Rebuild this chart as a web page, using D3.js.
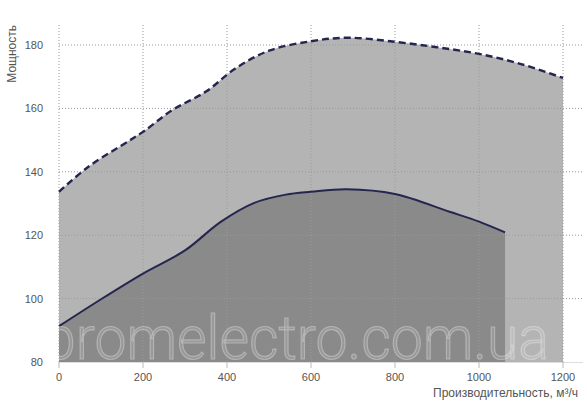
<!DOCTYPE html>
<html><head><meta charset="utf-8">
<script src="https://cdn.jsdelivr.net/npm/d3@7"></script>
<style>html,body{margin:0;padding:0;background:#fff;}svg{display:block;}</style>
</head><body>
<script>
const upperX = [0, 70, 150, 200, 270, 350, 420, 500, 600, 690, 800, 900, 1000, 1100, 1200];
const upperY = [133.7, 141.6, 148.4, 152.6, 159.5, 165.3, 172.6, 178.2, 181.2, 182.3, 181.0, 179.3, 177.2, 174.0, 169.6];
const lowerX = [0, 100, 200, 300, 385, 465, 540, 600, 685, 800, 930, 1000, 1062];
const lowerY = [91.3, 99.8, 107.9, 115.2, 124.2, 130.2, 132.8, 133.7, 134.5, 133.0, 127.4, 124.3, 120.9];
const xTicks = [0, 200, 400, 600, 800, 1000, 1200];
const yTicks = [80, 100, 120, 140, 160, 180];
const xTitle = "Производительность, м³/ч";
const yTitle = "Мощность";
const watermark = "promelectro.com.ua";

const W = 587, H = 405;
const svg = d3.select("body").append("svg").attr("width", W).attr("height", H);
const x = d3.scaleLinear().domain([0, 1250]).range([59, 584]);
const y = d3.scaleLinear().domain([80, 186]).range([362, 26]);

const up = upperX.map((v, i) => [v, upperY[i]]);
const lo = lowerX.map((v, i) => [v, lowerY[i]]);
const curve = d3.curveCatmullRom.alpha(0.5);

const area = d3.area().x(d => x(d[0])).y0(y(80)).y1(d => y(d[1])).curve(curve);
const line = d3.line().x(d => x(d[0])).y(d => y(d[1])).curve(curve);

svg.append("path").attr("d", area(up)).attr("fill", "#b4b4b4");
svg.append("path").attr("d", area(lo)).attr("fill", "#8a8a8a");

// grid
const g = svg.append("g");
g.selectAll(".hg").data(yTicks.filter(t => t > 80)).join("line")
  .attr("x1", x(0)).attr("x2", 583).attr("y1", d => y(d)).attr("y2", d => y(d))
  .attr("stroke", "#999").attr("stroke-dasharray", "1,2");
g.selectAll(".vg").data(xTicks).join("line")
  .attr("x1", d => x(d)).attr("x2", d => x(d)).attr("y1", 25).attr("y2", y(80))
  .attr("stroke", "#999").attr("stroke-dasharray", "1,2");

svg.append("path").attr("d", line(up)).attr("fill", "none")
  .attr("stroke", "#24264f").attr("stroke-width", 2.4).attr("stroke-dasharray", "7,4");
svg.append("path").attr("d", line(lo)).attr("fill", "none")
  .attr("stroke", "#24264f").attr("stroke-width", 2);

// bottom axis line
svg.append("line").attr("x1", x(0)).attr("x2", 583).attr("y1", y(80) + 0.5).attr("y2", y(80) + 0.5)
  .attr("stroke", "#ddd");

// watermark
svg.append("text").text(watermark)
  .attr("x", 44).attr("y", 359)
  .attr("textLength", 505).attr("lengthAdjust", "spacingAndGlyphs")
  .attr("font-family", "Roboto, 'Open Sans', sans-serif").attr("font-weight", 300)
  .attr("font-size", 62)
  .attr("fill", "rgba(255,255,255,0.13)")
  .attr("stroke", "rgba(255,255,255,0.3)").attr("stroke-width", 1.2);

// x ticks
const font = "'Liberation Sans', Arial, sans-serif";
svg.selectAll(".xt").data(xTicks).join("line")
  .attr("x1", d => x(d)).attr("x2", d => x(d)).attr("y1", y(80)).attr("y2", y(80) + 6)
  .attr("stroke", "#bbb");
svg.selectAll(".xl").data(xTicks).join("text")
  .attr("x", d => x(d)).attr("y", 381).attr("text-anchor", "middle")
  .attr("font-family", font).attr("font-size", 11).attr("fill", "#555").text(d => d);
svg.selectAll(".yl").data(yTicks).join("text")
  .attr("x", 43).attr("y", d => y(d) + 4).attr("text-anchor", "end")
  .attr("font-family", font).attr("font-size", 11).attr("fill", "#555").text(d => d);

svg.append("text").attr("x", 578).attr("y", 397).attr("text-anchor", "end")
  .attr("font-family", font).attr("font-size", 12).attr("fill", "#555").text(xTitle);
svg.append("text").attr("transform", "translate(16,25) rotate(-90)").attr("text-anchor", "end")
  .attr("font-family", font).attr("font-size", 12).attr("fill", "#555").text(yTitle);
</script>
</body></html>
